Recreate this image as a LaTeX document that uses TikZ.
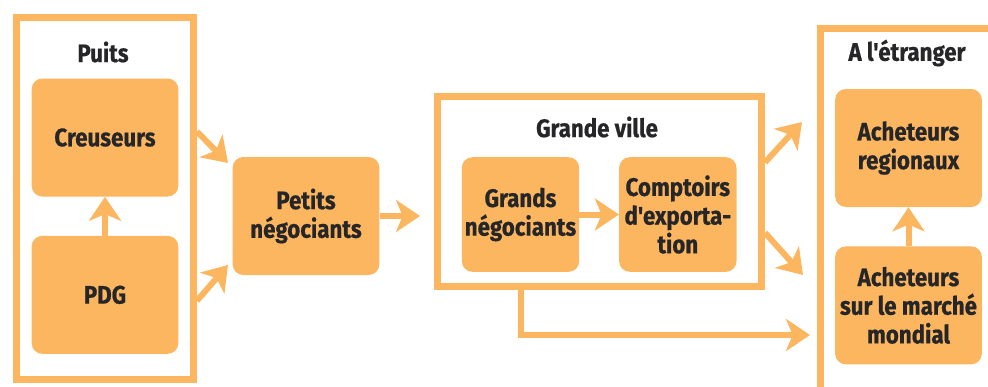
\documentclass[tikz,border=0pt]{standalone}
\usepackage{fontspec}
\setmainfont[FakeStretch=0.88, Ligatures=TeXOff, BoldFeatures={FakeBold=0.6}]{Fira Sans}
\usetikzlibrary{arrows.meta, positioning}

\definecolor{ocre}{RGB}{251,182,95}
\definecolor{encre}{RGB}{38,38,40}

\begin{document}
\begin{tikzpicture} [x=0.75pt, y=-0.75pt,
			node distance = 118pt,
			on grid,
			text=encre,
			font=\bfseries\fontsize{19}{21.5}\selectfont,
			box/.style={fill=ocre, rounded corners=8pt, inner sep=0pt,
				minimum width=110pt, minimum height=88.5pt, align=center},
			frame/.style={draw=ocre, line width=5.25pt, inner sep=0pt},
			flow/.style={color=ocre, line width=4.5pt,
				-{Stealth[length=18pt, width=24pt, inset=5pt]}},
		]
		\clip (0,0) rectangle (988,386);

		% Frames
		\node (puits) [frame, minimum width=132.75pt, minimum height=271.5pt]
			at (105,198.5) {};
		\node (gv) [frame, minimum width=243pt, minimum height=142.5pt]
			at (599.5,191.5) {};
		\node (etr) [frame, minimum width=134.6pt, minimum height=278.6pt]
			at (910,214) {};
		% Titles
		\node (tpuits) at (103,52) {Puits};
		\node (tgv) at (597,127) {Grande ville};
		\node (tetr) at (907,53) {A l'étranger};
		% Boxes
		\node (creus) [box] at (105,137.5) {Creuseurs};
		\node (pdg) [box,
			below = of creus] {PDG};
		\node (petits) [box] at (306,216) {Petits\\négociants};
		\node (grands) [box, minimum width=88pt, minimum height=86pt]
			at (520.5,214.5) {Grands\\négociants};
		\node (compt) [box, minimum width=88pt, minimum height=86pt,
			right = of grands] {Comptoirs\\d'exporta-\\tion};
		\node (regio) [box] at (908.5,148) {Acheteurs\\regionaux};
		\node (mondial) [box,
			below = of regio] {Acheteurs\\sur le marché\\mondial};
		% Arrow ends
		\coordinate (p1) at (228,163);
		\coordinate (p2) at (228,265);
		\coordinate (g0) at (420,216);
		\coordinate (e1) at (802,122);
		\coordinate (e2) at (803,275);
		\coordinate (e3) at (810,335);
		% Arrows
		\draw [flow] (pdg) -- (creus);
		\draw [flow] (puits.36.9) -- (p1);
		\draw [flow] (puits.-48.3) -- (p2);
		\draw [flow] (petits) -- (g0);
		\draw [flow] (grands) -- (compt);
		\draw [flow] (gv.10) -- (e1);
		\draw [flow] (gv.-14.4) -- (e2);
		\draw [flow] (mondial) -- (regio);
		\draw [flow] ([xshift=-59pt]gv.south) |- (e3);
	\end{tikzpicture}
\end{document}
